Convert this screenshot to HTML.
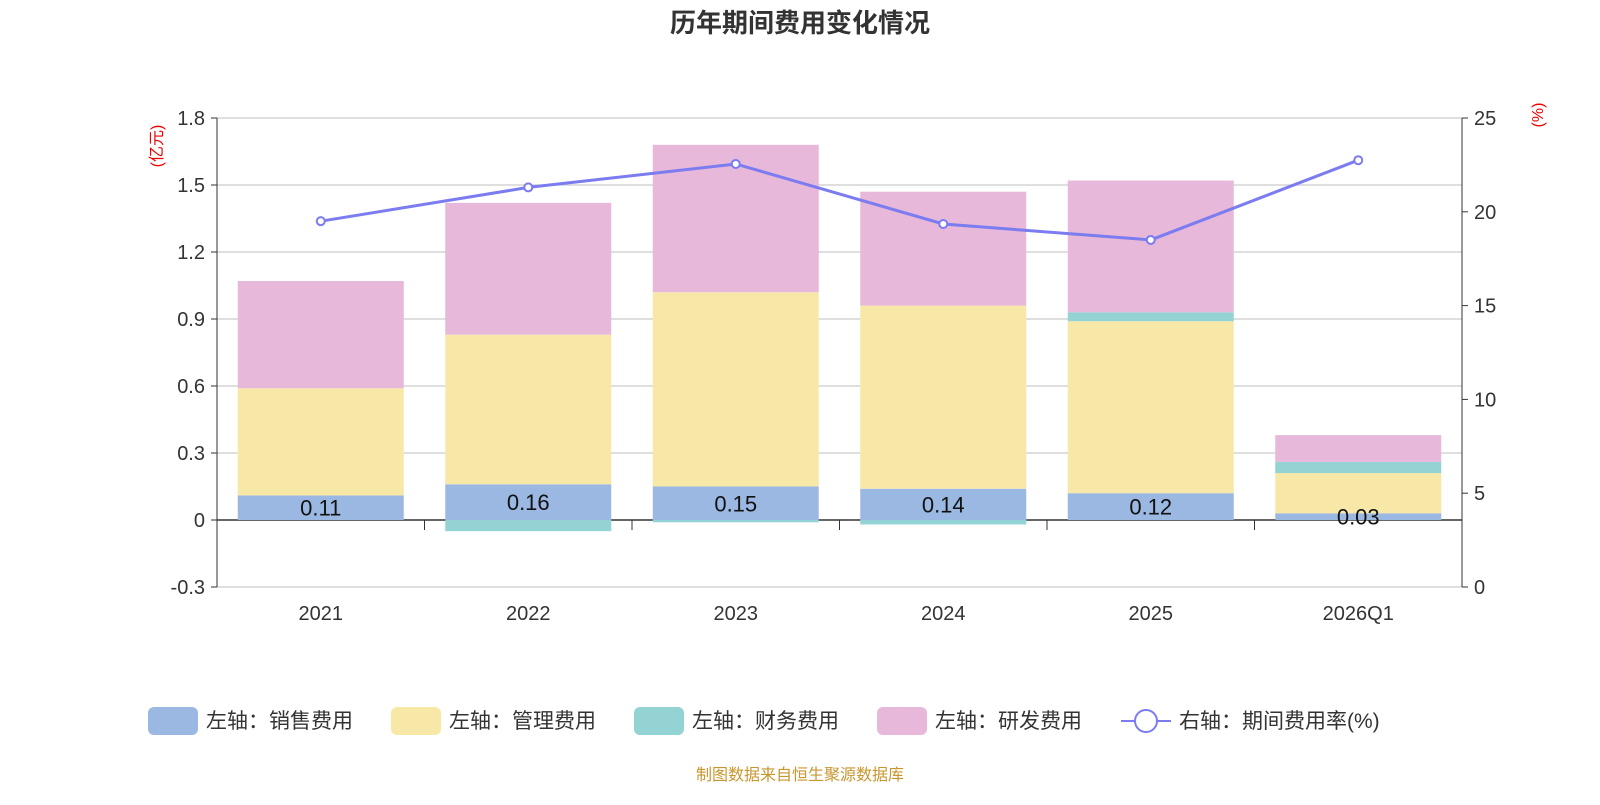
<!DOCTYPE html>
<html><head><meta charset="utf-8">
<style>
body{margin:0;background:#fff;}
svg text{font-family:"Liberation Sans","Noto Sans CJK SC",sans-serif;}
</style></head>
<body>
<svg id="chart" width="1600" height="800" xmlns="http://www.w3.org/2000/svg">
<text x="800" y="32" text-anchor="middle" font-size="26" font-weight="bold" fill="#333">历年期间费用变化情况</text>
<text transform="translate(162,146) rotate(-90)" text-anchor="middle" font-size="16" fill="#e00">(亿元)</text>
<text transform="translate(1543,115) rotate(-90)" text-anchor="middle" font-size="16" fill="#e00">(%)</text>
<g id="grid"></g><g id="bars"></g><g id="axes"></g><g id="line"></g><g id="labels"></g>
<g id="legend"></g>
<text x="800" y="780" text-anchor="middle" font-size="16" fill="#c8962e">制图数据来自恒生聚源数据库</text>
</svg>
<script>
const categories=["2021","2022","2023","2024","2025","2026Q1"];
const sales=[0.11,0.16,0.15,0.14,0.12,0.03];
const admin=[0.48,0.67,0.87,0.82,0.77,0.18];
const finance=[0.0,-0.05,-0.01,-0.02,0.04,0.05];
const rnd=[0.48,0.59,0.66,0.51,0.59,0.12];
const rate=[19.5,21.3,22.55,19.35,18.5,22.75];
const leftTicks=[-0.3,0,0.3,0.6,0.9,1.2,1.5,1.8];
const rightTicks=[0,5,10,15,20,25];

const NS="http://www.w3.org/2000/svg";
const L=217,R=1462,T=118,B=587;
const yL=v=>520-(v/0.3)*67;
const yR=v=>B-(v/25)*(B-T);
const band=(R-L)/categories.length;
const xC=i=>L+band*(i+0.5);
function mk(tag,attrs,parent,text){const e=document.createElementNS(NS,tag);for(const k in attrs)e.setAttribute(k,attrs[k]);if(text!=null)e.textContent=text;document.getElementById(parent).appendChild(e);return e;}

leftTicks.forEach(t=>{
  const g=mk('line',{x1:L,x2:R,y1:yL(t),y2:yL(t),stroke:t===0?'#333':'#ccc','stroke-width':t===0?1.5:1.2},'grid');
  
  
  mk('line',{x1:L-6,x2:L,y1:yL(t),y2:yL(t),stroke:'#333'},'axes');
  const tx=mk('text',{x:L-12,y:yL(t)+7,'text-anchor':'end','font-size':20,fill:'#333'},'axes',t===0?'0':t.toFixed(1));
  
  
});
rightTicks.forEach(t=>{
  mk('line',{x1:R,x2:R+6,y1:yR(t),y2:yR(t),stroke:'#333'},'axes');
  const tx=mk('text',{x:R+12,y:yR(t)+7,'font-size':20,fill:'#333'},'axes',String(t));
  
  
});
mk('line',{x1:L,x2:L,y1:T,y2:B,stroke:'#333'},'axes');
mk('line',{x1:R,x2:R,y1:T,y2:B,stroke:'#333'},'axes');
for(let i=1;i<categories.length;i++){const x=L+band*i;mk('line',{x1:x,x2:x,y1:520,y2:530,stroke:'#333'},'axes');}

const series=[[sales,'#9bb8e2','sales'],[admin,'#f8e8a8','admin'],[finance,'#93d3d3','finance'],[rnd,'#e7b8d9','rnd']];
const bw=band*0.8;
categories.forEach((c,i)=>{
  let pos=0,neg=0;
  series.forEach(([arr,col,nm])=>{
    const v=arr[i];let y0,y1;
    if(v>=0){y0=pos;y1=pos+v;pos=y1;}else{y0=neg;y1=neg+v;neg=y1;}
    const r=mk('rect',{x:xC(i)-bw/2,y:Math.min(yL(y0),yL(y1)),width:bw,height:Math.abs(yL(y1)-yL(y0)),fill:col},'bars');
    
    
  });
  const lb=mk('text',{x:xC(i),y:yL(sales[i]/2)+8,'text-anchor':'middle','font-size':22,fill:'#111'},'labels',sales[i].toFixed(2));
  
  
  const cl=mk('text',{x:xC(i),y:620,'text-anchor':'middle','font-size':20,fill:'#333'},'axes',c);
  
  
});
const pts=rate.map((v,i)=>xC(i)+','+yR(v)).join(' ');
const pl=mk('polyline',{points:pts,fill:'none',stroke:'#7b7cf0','stroke-width':3},'line');


rate.forEach((v,i)=>{
  const p=mk('circle',{cx:xC(i),cy:yR(v),r:4,fill:'#fff',stroke:'#7b7cf0','stroke-width':2},'line');
  
  
});

const leg=[['左轴：销售费用','#9bb8e2',148],['左轴：管理费用','#f8e8a8',391],['左轴：财务费用','#93d3d3',634],['左轴：研发费用','#e7b8d9',877]];
leg.forEach(([t,c,x])=>{
  const r=mk('rect',{x:x,y:707,width:50,height:28,rx:6,fill:c},'legend');
  
  
  const tx=mk('text',{x:x+58,y:728,'font-size':21,fill:'#333'},'legend',t);
  
  
});
mk('line',{x1:1121,x2:1171,y1:721,y2:721,stroke:'#7b7cf0','stroke-width':2},'legend');
mk('circle',{cx:1146,cy:721,r:11,fill:'#fff',stroke:'#7b7cf0','stroke-width':2},'legend');
const lt=mk('text',{x:1179,y:728,'font-size':21,fill:'#333'},'legend','右轴：期间费用率(%)');


</script>
</body></html>
